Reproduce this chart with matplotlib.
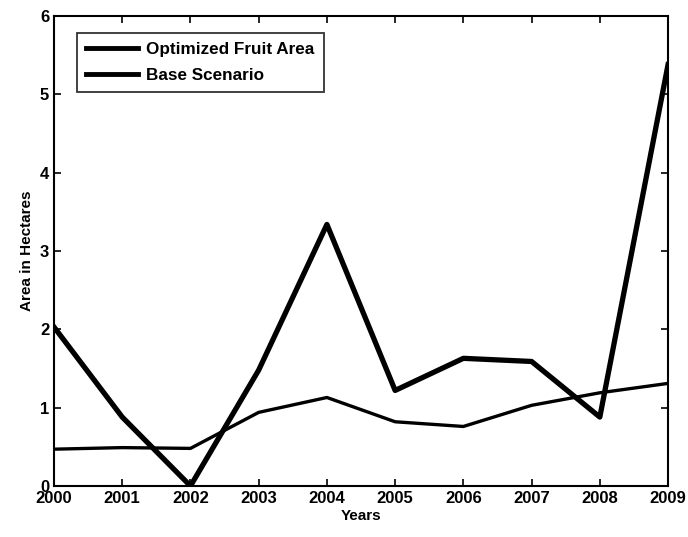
import matplotlib
matplotlib.use("Agg")
import matplotlib.pyplot as plt

# data
years = [2000, 2001, 2002, 2003, 2004, 2005, 2006, 2007, 2008, 2009]
optimized = [2.03, 0.88, 0.0, 1.48, 3.34, 1.22, 1.63, 1.59, 0.88, 5.38]
base = [0.47, 0.49, 0.48, 0.94, 1.13, 0.82, 0.76, 1.03, 1.19, 1.31]

plt.rcParams['font.family'] = ['Liberation Sans', 'DejaVu Sans']
plt.rcParams['font.weight'] = 'bold'
plt.rcParams['axes.labelweight'] = 'bold'

fig = plt.figure(figsize=(6.88, 5.37), dpi=100)
ax = fig.add_axes([0.0785, 0.095, 0.8925, 0.875])

ax.plot(years, optimized, color='black', lw=3.8, label='Optimized Fruit Area')
ax.plot(years, base, color='black', lw=2.4, label='Base Scenario')

ax.set_xlim(2000, 2009)
ax.set_ylim(0, 6)
ax.set_xticks(years)
ax.set_yticks(range(7))
ax.tick_params(direction='in', top=True, right=True, labelsize=12, length=5, width=1.2)
for s in ax.spines.values():
    s.set_linewidth(1.5)

ax.set_xlabel('Years', fontsize=11, labelpad=2)
ax.set_ylabel('Area in Hectares', fontsize=11, labelpad=4)

leg = ax.legend(loc='upper left', bbox_to_anchor=(0.0375, 0.964), borderaxespad=0,
                fontsize=12.3, frameon=True, fancybox=False, edgecolor='black',
                handlelength=3.0, handletextpad=0.5, borderpad=0.55, labelspacing=0.6)
leg.get_frame().set_linewidth(1.3)
for h in leg.get_lines():
    h.set_linewidth(3.5)

fig.savefig('out.png', dpi=100)
